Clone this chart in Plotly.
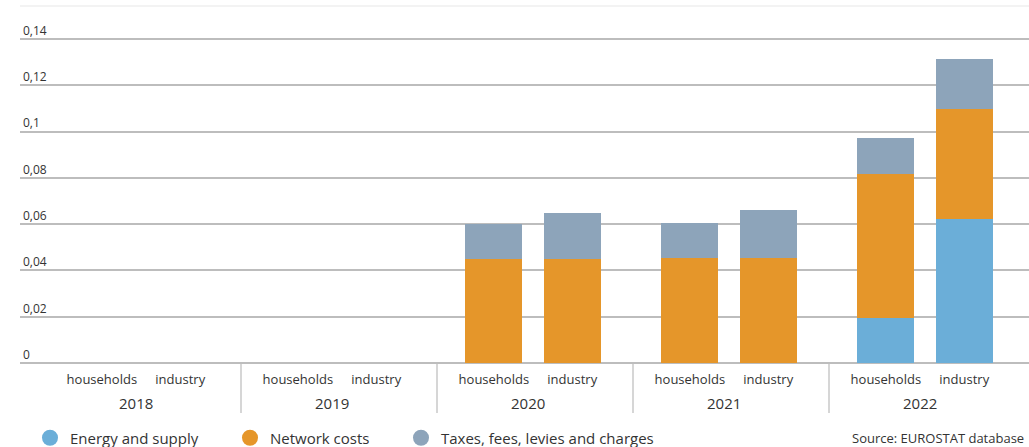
import plotly.graph_objects as go

# ---------------- data ----------------
years = ["2018", "2019", "2020", "2021", "2022"]
consumers = ["households", "industry"]

energy_supply = [None, None, None, None, None, None, None, None, 0.0193, 0.0621]
network_costs = [None, None, None, None, 0.0448, 0.0448, 0.0455, 0.0455, 0.0622, 0.0476]
taxes_fees = [None, None, None, None, 0.0151, 0.0199, 0.0151, 0.0205, 0.0158, 0.0215]

series_names = ["Energy and supply", "Network costs", "Taxes, fees, levies and charges"]
y_tick_values = [0, 0.02, 0.04, 0.06, 0.08, 0.10, 0.12, 0.14]
y_tick_labels = ["0", "0,02", "0,04", "0,06", "0,08", "0,1", "0,12", "0,14"]
source_text = "Source: EUROSTAT database"

# ---------------- style ----------------
colors = ["#6BAED8", "#E5962A", "#8DA4BA"]
text_color = "#333333"
grid_color = "#BDBDBD"
font_family = "Open Sans, Noto Sans, sans-serif"
slot_offset = {"households": 0.29, "industry": 0.69}
bar_width = 0.29

W, H = 1029, 447
plot_left, plot_right, plot_top, plot_bottom = 20, 1029, 6, 363
group_px, group0_px = 196, 45  # pixel width of a year group, pixel of first group start

x_pos = [j + slot_offset[c] for j in range(len(years)) for c in consumers]
x_labels = [c for _ in years for c in consumers]

x_min = (plot_left - group0_px) / group_px
x_max = (plot_right - group0_px) / group_px
px_per_unit = (363 - 39) / 0.14
y_max = (plot_bottom - plot_top) / px_per_unit
plot_h = plot_bottom - plot_top

fig = go.Figure()
for name, vals, col in zip(series_names, [energy_supply, network_costs, taxes_fees], colors):
    fig.add_trace(go.Bar(
        x=x_pos, y=vals, name=name, width=bar_width,
        marker=dict(color=col, line=dict(width=0)),
        showlegend=False, hoverinfo="skip",
    ))

# legend entries with round markers, each in its own legend for exact placement
legend_px = [30, 230, 401]
legend_keys = ["legend", "legend2", "legend3"]
for name, col, key in zip(series_names, colors, legend_keys):
    fig.add_trace(go.Scatter(
        x=[None], y=[None], mode="markers", name=name, legend=key,
        marker=dict(color=col, size=18, symbol="circle"), showlegend=True,
    ))

legend_common = dict(
    xref="container", yref="container", yanchor="middle", xanchor="left",
    orientation="h", bgcolor="rgba(0,0,0,0)", borderwidth=0,
    font=dict(family=font_family, size=15, color=text_color),
    itemclick=False, itemdoubleclick=False,
)
legend_layout = {}
for key, px in zip(legend_keys, legend_px):
    legend_layout[key] = dict(legend_common, x=px / W, y=1 - 438 / H)

# separators between year groups
shapes = []
for j in range(1, len(years)):
    shapes.append(dict(type="line", xref="x", yref="paper", x0=j, x1=j,
                       y0=0, y1=-(413 - plot_bottom) / plot_h,
                       line=dict(color="#C8C8C8", width=1.5), layer="below"))
# faint top border
shapes.append(dict(type="line", xref="paper", yref="paper", x0=0, x1=1, y0=1, y1=1,
                   line=dict(color="#EFEFEF", width=1.5)))

annotations = []
for j, yr in enumerate(years):
    annotations.append(dict(
        x=j + 0.5, y=-(403 - plot_bottom) / plot_h, xref="x", yref="paper",
        text=yr, showarrow=False, xanchor="center", yanchor="middle", xshift=-7,
        font=dict(family=font_family, size=15, color=text_color),
    ))
annotations.append(dict(
    x=(1026 - plot_left) / (plot_right - plot_left), y=-(438 - plot_bottom) / plot_h,
    xref="paper", yref="paper", text=source_text,
    showarrow=False, xanchor="right", yanchor="middle",
    font=dict(family=font_family, size=13, color=text_color),
))

fig.update_layout(
    width=W, height=H,
    margin=dict(l=plot_left, r=W - plot_right, t=plot_top, b=H - plot_bottom, pad=0),
    paper_bgcolor="white", plot_bgcolor="white",
    barmode="stack",
    separators=",.",
    font=dict(family=font_family, color=text_color),
    xaxis=dict(
        range=[x_min, x_max], tickmode="array", tickvals=x_pos, ticktext=x_labels,
        showgrid=False, zeroline=False, showline=False, ticks="",
        ticklabelstandoff=7,
        tickfont=dict(family=font_family, size=13, color=text_color),
        fixedrange=True,
    ),
    yaxis=dict(
        range=[0, y_max], tickmode="array", tickvals=y_tick_values, ticktext=y_tick_labels,
        showgrid=True, gridcolor=grid_color, gridwidth=1.6,
        zeroline=True, zerolinecolor=grid_color, zerolinewidth=1.6,
        showline=False, ticks="", ticklabelposition="inside top",
        tickfont=dict(family=font_family, size=12, color=text_color),
        fixedrange=True,
    ),
    shapes=shapes,
    annotations=annotations,
    **legend_layout,
)

fig.write_html("out.html")
